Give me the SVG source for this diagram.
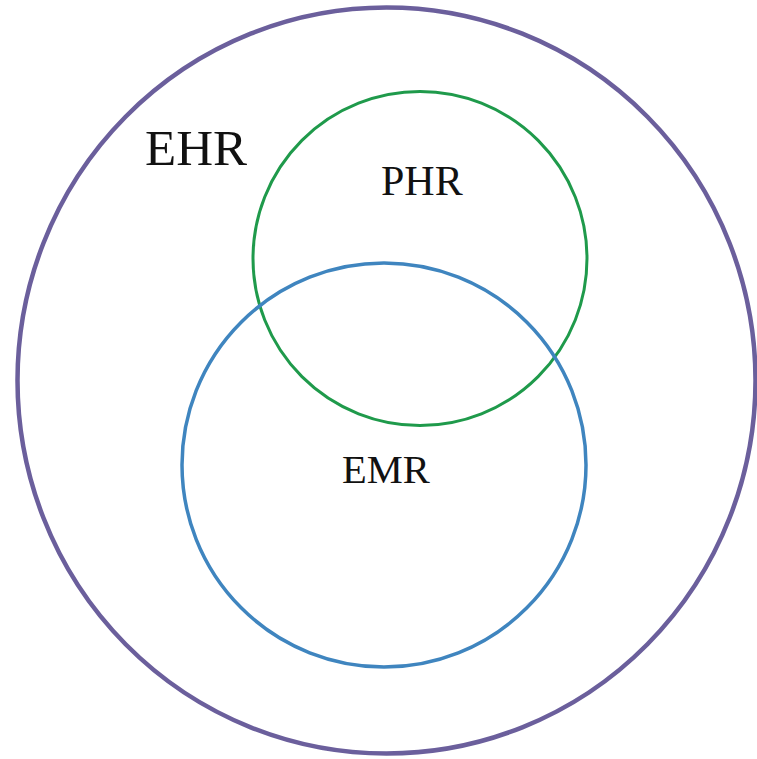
<svg xmlns="http://www.w3.org/2000/svg" width="757" height="759" viewBox="0 0 757 759">
<style>
.lbl{font-family:"Liberation Serif","Times New Roman",serif;fill:#111111;}
</style>
<rect x="0" y="0" width="757" height="759" fill="#ffffff"/>
<g id="ehr">
<ellipse cx="386.5" cy="380.5" rx="369" ry="373" fill="none" stroke="#6b5f9c" stroke-width="4.5"/>
<text class="lbl" x="145" y="165" font-size="51">EHR</text>
</g>
<g id="phr">
<circle cx="420" cy="258.5" r="167" fill="none" stroke="#1f9a4b" stroke-width="3"/>
<text class="lbl" x="381" y="195" font-size="42">PHR</text>
</g>
<g id="emr">
<circle cx="384" cy="465" r="202" fill="none" stroke="#3f85bf" stroke-width="3.5"/>
<text class="lbl" x="342" y="483" font-size="40.5">EMR</text>
</g>
<g id="connectors"></g>
</svg>
